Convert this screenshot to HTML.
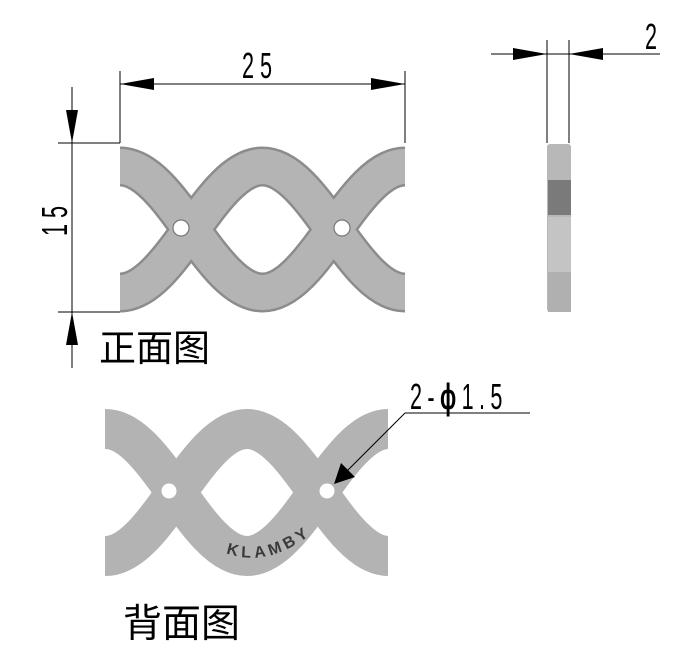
<!DOCTYPE html>
<html><head><meta charset="utf-8"><style>html,body{margin:0;padding:0;background:#fff}svg{display:block}</style></head><body>
<svg width="695" height="671" viewBox="0 0 695 671" xmlns="http://www.w3.org/2000/svg">
<defs>
<clipPath id="cf"><rect x="120" y="100" width="285" height="240"/></clipPath>
<clipPath id="cb"><rect x="105" y="380" width="283" height="220"/></clipPath>
</defs>
<!-- front view -->
<g clip-path="url(#cf)" fill="none" stroke-linecap="butt">
<path d="M-22.5,292.5 C29.3,292.5 68.2,166.5 120,166.5 C171.8,166.5 210.7,292.5 262.5,292.5 C314.3,292.5 353.2,166.5 405,166.5 C456.8,166.5 495.7,292.5 547.5,292.5" stroke="#8c8c8c" stroke-width="40"/>
<path d="M-22.5,166.5 C29.3,166.5 68.2,292.5 120,292.5 C171.8,292.5 210.7,166.5 262.5,166.5 C314.3,166.5 353.2,292.5 405,292.5 C456.8,292.5 495.7,166.5 547.5,166.5" stroke="#8c8c8c" stroke-width="40"/>
<path d="M-22.5,292.5 C29.3,292.5 68.2,166.5 120,166.5 C171.8,166.5 210.7,292.5 262.5,292.5 C314.3,292.5 353.2,166.5 405,166.5 C456.8,166.5 495.7,292.5 547.5,292.5" stroke="#b4b4b4" stroke-width="35"/>
<path d="M-22.5,166.5 C29.3,166.5 68.2,292.5 120,292.5 C171.8,292.5 210.7,166.5 262.5,166.5 C314.3,166.5 353.2,292.5 405,292.5 C456.8,292.5 495.7,166.5 547.5,166.5" stroke="#b4b4b4" stroke-width="35"/>
</g>
<circle cx="181" cy="228" r="8" fill="#fff" stroke="#777" stroke-width="1.2"/>
<circle cx="342" cy="228" r="8" fill="#fff" stroke="#777" stroke-width="1.2"/>
<!-- side view -->
<rect x="547" y="144" width="24" height="168" rx="3" fill="#b8b8b8"/>
<rect x="548" y="180" width="23" height="35" fill="#7a7a7a"/>
<rect x="548" y="217" width="23" height="55" fill="#c4c4c4"/>
<rect x="548" y="272" width="23" height="40" fill="#b0b0b0"/>
<!-- back view -->
<g clip-path="url(#cb)" fill="none" stroke="#b3b3b3" stroke-width="40">
<path d="M-36,556 C15.4,556 54.1,429 105.5,429 C156.9,429 195.6,556 247,556 C298.4,556 337.1,429 388.5,429 C439.9,429 478.6,556 530,556"/>
<path d="M-36,429 C15.4,429 54.1,556 105.5,556 C156.9,556 195.6,429 247,429 C298.4,429 337.1,556 388.5,556 C439.9,556 478.6,429 530,429"/>
</g>
<circle cx="169" cy="491" r="7.5" fill="#fff"/>
<circle cx="327" cy="491" r="7.5" fill="#fff"/>
<path id="kp" d="M226,553 Q272,570 322,525" fill="none"/>
<text font-family="Liberation Sans, sans-serif" font-size="16" font-weight="bold" fill="#3a3a3a" letter-spacing="4"><textPath href="#kp">KLAMBY</textPath></text>
<!-- dims -->
<g stroke="#000" stroke-width="1" fill="none">
<line x1="120" y1="71" x2="120" y2="143"/>
<line x1="405" y1="71" x2="405" y2="143"/>
<line x1="120" y1="84" x2="405" y2="84"/>
<line x1="58" y1="143" x2="120" y2="143"/>
<line x1="58" y1="312" x2="120" y2="312"/>
<line x1="72" y1="87" x2="72" y2="368"/>
<line x1="491" y1="54" x2="660" y2="54"/>
<line x1="547" y1="40" x2="547" y2="143"/>
<line x1="569" y1="40" x2="569" y2="143"/>
<line x1="405" y1="413" x2="530" y2="413"/>
<line x1="405" y1="413" x2="345" y2="473"/>
</g>
<g fill="#000">
<polygon points="120,84 154,78 154,90"/>
<polygon points="405,84 371,78 371,90"/>
<polygon points="72,143 66,110 78,110"/>
<polygon points="72,312 66,345 78,345"/>
<polygon points="547,54 513,48 513,60"/>
<polygon points="569,54 603,48 603,60"/>
<polygon points="334,484 341,463 355,477"/>
</g>
<g font-family="Liberation Sans, sans-serif" font-size="36" fill="#000">
<text x="260" y="78" text-anchor="middle" transform="translate(260,0) scale(0.6,1) translate(-260,0)" letter-spacing="10">25</text>
<text x="0" y="0" transform="translate(67,218) rotate(-90) scale(0.6,1)" text-anchor="middle" letter-spacing="10">15</text>
<text x="651" y="49" text-anchor="middle" transform="translate(651,0) scale(0.6,1) translate(-651,0)">2</text>
<text x="410" y="409" transform="translate(410,0) scale(0.6,1) translate(-410,0)" letter-spacing="9">2-<tspan font-weight="bold">ϕ</tspan>1.5</text>
</g>
<g font-family="Liberation Sans, 'Noto Sans CJK SC', sans-serif" fill="#000">
<text x="99" y="361" font-size="37">正面图</text>
<text x="123" y="637" font-size="39">背面图</text>
</g>
</svg>
</body></html>
